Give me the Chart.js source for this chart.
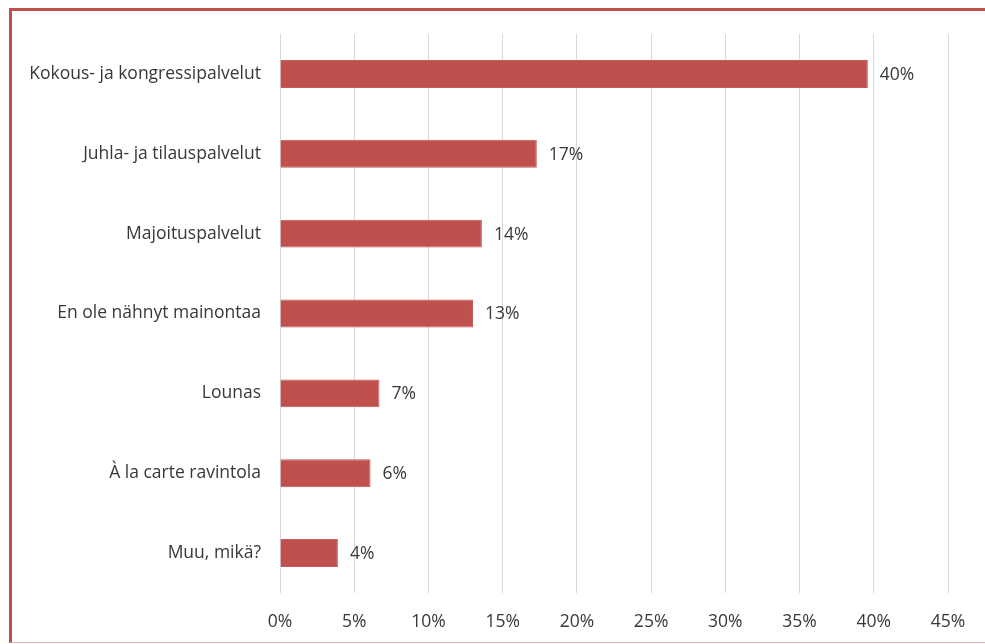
<!DOCTYPE html>
<html>
<head>
<meta charset="utf-8">
<script src="https://cdn.jsdelivr.net/npm/chart.js@4.4.1/dist/chart.umd.min.js"></script>
<style>
    html, body {
        margin: 0;
        padding: 0;
        background: #fff;
        overflow: hidden;
    }
    .frame {
        position: absolute;
        left: 9px;
        top: 8px;
        width: 1000px;
        height: 631px;
        border-left: 3px solid #c0504d;
        border-top: 3px solid #c0504d;
        border-bottom: 1px solid #e6b1b0;
    }
    .wrap {
        position: absolute;
        left: 0;
        top: 0;
        width: 985px;
        height: 644px;
    }
</style>
</head>
<body>
<div class="frame"></div>
<div class="wrap"><canvas id="chart"></canvas></div>
<script>
// Categories and shares (%)
const categories = [
    'Kokous- ja kongressipalvelut',
    'Juhla- ja tilauspalvelut',
    'Majoituspalvelut',
    'En ole nähnyt mainontaa',
    'Lounas',
    'À la carte ravintola',
    'Muu, mikä?'
];
const shares = [39.6, 17.3, 13.6, 13.0, 6.7, 6.1, 3.9];

const textColor = '#383838';
const fontFamily = "'Open Sans', 'Noto Sans', sans-serif";
const fontSize = 17.5;

// Value labels at the end of each bar
const barLabels = {
    id: 'barLabels',
    afterDatasetsDraw(chart) {
        const ctx = chart.ctx;
        const meta = chart.getDatasetMeta(0);
        ctx.save();
        ctx.font = fontSize + 'px ' + fontFamily;
        ctx.fillStyle = textColor;
        ctx.textAlign = 'left';
        ctx.textBaseline = 'middle';
        meta.data.forEach((bar, i) => {
            ctx.fillText(Math.round(shares[i]) + '%', bar.x + 12, bar.y + 1);
        });
        ctx.restore();
    }
};

const ctx = document.getElementById('chart').getContext('2d');
new Chart(ctx, {
    type: 'bar',
    data: {
        labels: categories,
        datasets: [{
            data: shares,
            backgroundColor: '#c0504d',
            borderColor: '#c65a57',
            borderWidth: 1,
            barPercentage: 0.35,
            categoryPercentage: 1
        }]
    },
    options: {
        indexAxis: 'y',
        responsive: true,
        maintainAspectRatio: false,
        animation: false,
        layout: {
            padding: { top: 34, right: 37, bottom: 0, left: 0 }
        },
        plugins: {
            legend: { display: false },
            tooltip: { enabled: false }
        },
        scales: {
            x: {
                min: 0,
                max: 45,
                ticks: {
                    stepSize: 5,
                    padding: 19,
                    color: textColor,
                    font: { family: fontFamily, size: fontSize },
                    callback: v => v + '%'
                },
                grid: {
                    color: '#d9d9d9',
                    lineWidth: 1,
                    drawTicks: false
                },
                border: { display: false },
                afterFit(scale) { scale.height = 51; }
            },
            y: {
                ticks: {
                    padding: 19,
                    color: textColor,
                    font: { family: fontFamily, size: fontSize }
                },
                grid: { display: false, drawTicks: false },
                border: { display: false },
                afterFit(scale) { scale.width = 280; }
            }
        }
    },
    plugins: [barLabels]
});
</script>
</body>
</html>
